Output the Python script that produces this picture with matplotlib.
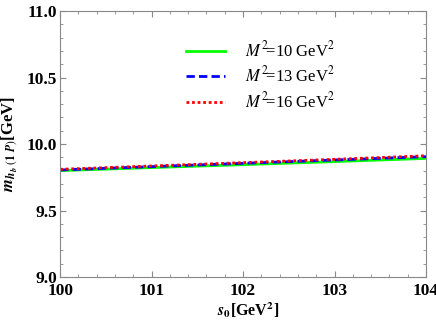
import matplotlib
matplotlib.use("Agg")
import matplotlib.pyplot as plt
from matplotlib.ticker import MultipleLocator, FormatStrFormatter

# dados
s0 = [100, 101, 102, 103, 104]
m_10 = [9.800, 9.823, 9.845, 9.868, 9.892]
m_13 = [9.805, 9.830, 9.855, 9.880, 9.905]
m_16 = [9.810, 9.835, 9.860, 9.885, 9.912]
labels = [r"$M^2\!$=10 GeV$^2$", r"$M^2\!$=13 GeV$^2$", r"$M^2\!$=16 GeV$^2$"]

plt.rcParams["font.family"] = "Liberation Serif"
plt.rcParams["mathtext.fontset"] = "stix"

fig = plt.figure(figsize=(4.36, 3.27), dpi=100)
ax = fig.add_axes([0.138, 0.153, 0.839, 0.813])

ax.plot(s0, m_10, color="#00ff00", lw=2.0, label=labels[0])
ax.plot(s0, m_13, color="#0000ff", lw=2.0, ls=(0, (3, 1.5)), label=labels[1])
ax.plot(s0, m_16, color="#ff0000", lw=2.0, ls=(0, (1, 1)), label=labels[2])

ax.set_xlim(100, 104)
ax.set_ylim(9.0, 11.0)
ax.xaxis.set_major_locator(MultipleLocator(1))
ax.xaxis.set_minor_locator(MultipleLocator(0.2))
ax.yaxis.set_major_locator(MultipleLocator(0.5))
ax.yaxis.set_minor_locator(MultipleLocator(0.1))
ax.yaxis.set_major_formatter(FormatStrFormatter("%.1f"))

for sp in ax.spines.values():
    sp.set_color("#888888")
ax.tick_params(which="both", direction="in", top=True, right=True, color="#888888")
ax.tick_params(which="major", length=4, labelsize=12.5)
ax.tick_params(axis="y", which="major", pad=2)
ax.tick_params(axis="x", which="major", pad=4)
ax.tick_params(which="minor", length=2)
for t in ax.get_xticklabels() + ax.get_yticklabels():
    t.set_fontweight("bold")

ax.set_xlabel(r"$\mathbfit{s}_\mathbf{0}$[GeV$^\mathbf{2}$]", fontsize=11.5, fontweight="bold")
ax.set_ylabel(r"$\mathbfit{m}_{\mathbfit{h}_\mathbfit{b}\ (\mathbf{1}\ \mathbfit{P})}$[GeV]",
              fontsize=12, fontweight="bold")
ax.yaxis.set_label_coords(-0.11, 0.5)
ax.xaxis.set_label_coords(0.515, -0.09)

leg = ax.legend(loc="upper left", bbox_to_anchor=(0.343, 0.89), frameon=False,
                borderaxespad=0, borderpad=0,
                fontsize=12, handlelength=2.35, labelspacing=0.33, handletextpad=1.2)

plt.savefig("out.png", dpi=100)
